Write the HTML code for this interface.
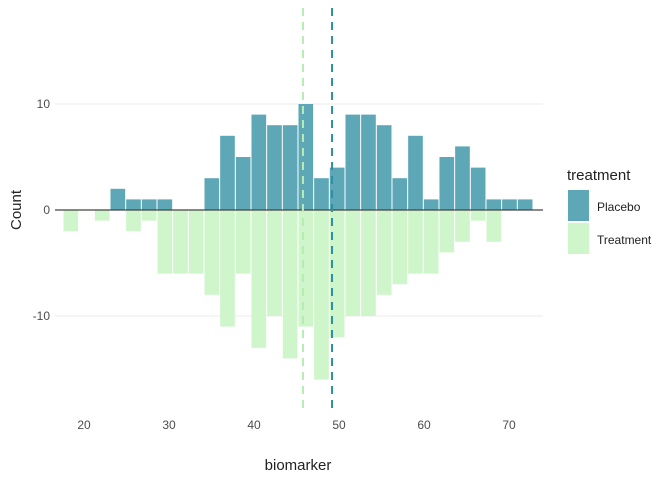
<!DOCTYPE html>
<html><head><meta charset="utf-8"><style>
body{margin:0;background:#fff}
svg text{font-family:"Liberation Sans",sans-serif}
</style></head><body>
<svg id="c" width="672" height="480"></svg>
<script>
const binStart=17.53, binWidth=1.843;
const placebo=[0,0,0,2,1,1,1,0,0,3,7,5,9,8,8,10,3,4,9,9,8,3,7,1,5,6,4,1,1,1];
const treatment=[2,0,1,0,2,1,6,6,6,8,11,6,13,10,14,11,16,12,10,10,8,7,6,6,4,3,1,3,0,0];
const xTicks=[20,30,40,50,60,70];
const yTicks=[-10,0,10];
const meanPlacebo=49.18, meanTreatment=45.76;
const X=v=>84+(v-20)*8.5;
const Y=v=>210-v*10.6;
const svg=document.getElementById('c');
const NS='http://www.w3.org/2000/svg';
function mk(t,a,p){const e=document.createElementNS(NS,t);for(const k in a)e.setAttribute(k,a[k]);(p||svg).appendChild(e);return e;}
yTicks.forEach(t=>{if(t!==0){const g=mk('line',{x1:55,x2:543,y1:Y(t),y2:Y(t),stroke:'#ebebeb','stroke-width':1});

}
const l=mk('text',{x:50,y:Y(t)+4,'text-anchor':'end','font-size':12,fill:'#4d4d4d'});l.textContent=t;

});
xTicks.forEach(t=>{const l=mk('text',{x:X(t),y:429,'text-anchor':'middle','font-size':12,fill:'#4d4d4d'});l.textContent=t;

});
placebo.forEach((v,i)=>{if(!v)return;const x0=X(binStart+i*binWidth),x1=X(binStart+(i+1)*binWidth);
const r=mk('rect',{x:x0+0.5,y:Y(v),width:x1-x0-1,height:Y(0)-Y(v),fill:'#5ea7b7'});

});
treatment.forEach((v,i)=>{if(!v)return;const x0=X(binStart+i*binWidth),x1=X(binStart+(i+1)*binWidth);
const r=mk('rect',{x:x0+0.5,y:Y(0),width:x1-x0-1,height:Y(-v)-Y(0),fill:'#cff5cb'});

});
const z=mk('line',{x1:55,x2:543,y1:Y(0),y2:Y(0),stroke:'#444','stroke-width':1.2});


const m1=mk('line',{x1:X(meanTreatment),x2:X(meanTreatment),y1:8,y2:413,stroke:'#b7ecb4','stroke-width':2,'stroke-dasharray':'8,6'});


const m2=mk('line',{x1:X(meanPlacebo),x2:X(meanPlacebo),y1:8,y2:413,stroke:'#2e8fa3','stroke-width':2,'stroke-dasharray':'8,6'});


</script>
<svg style="position:absolute;left:0;top:0" width="672" height="480">
<text x="298" y="470" text-anchor="middle" font-size="15" fill="#222">biomarker</text>
<text transform="translate(21,210) rotate(-90)" text-anchor="middle" font-size="15" fill="#222">Count</text>
<g>
<text x="567" y="180" font-size="15" fill="#222">treatment</text>
<rect x="568" y="190" width="21" height="31" fill="#5ea7b7"/>
<text x="597" y="211" font-size="12" fill="#222">Placebo</text>
<rect x="568" y="223" width="21" height="31" fill="#cff5cb"/>
<text x="597" y="244" font-size="12" fill="#222">Treatment</text>
</g>
</svg>
</body></html>
